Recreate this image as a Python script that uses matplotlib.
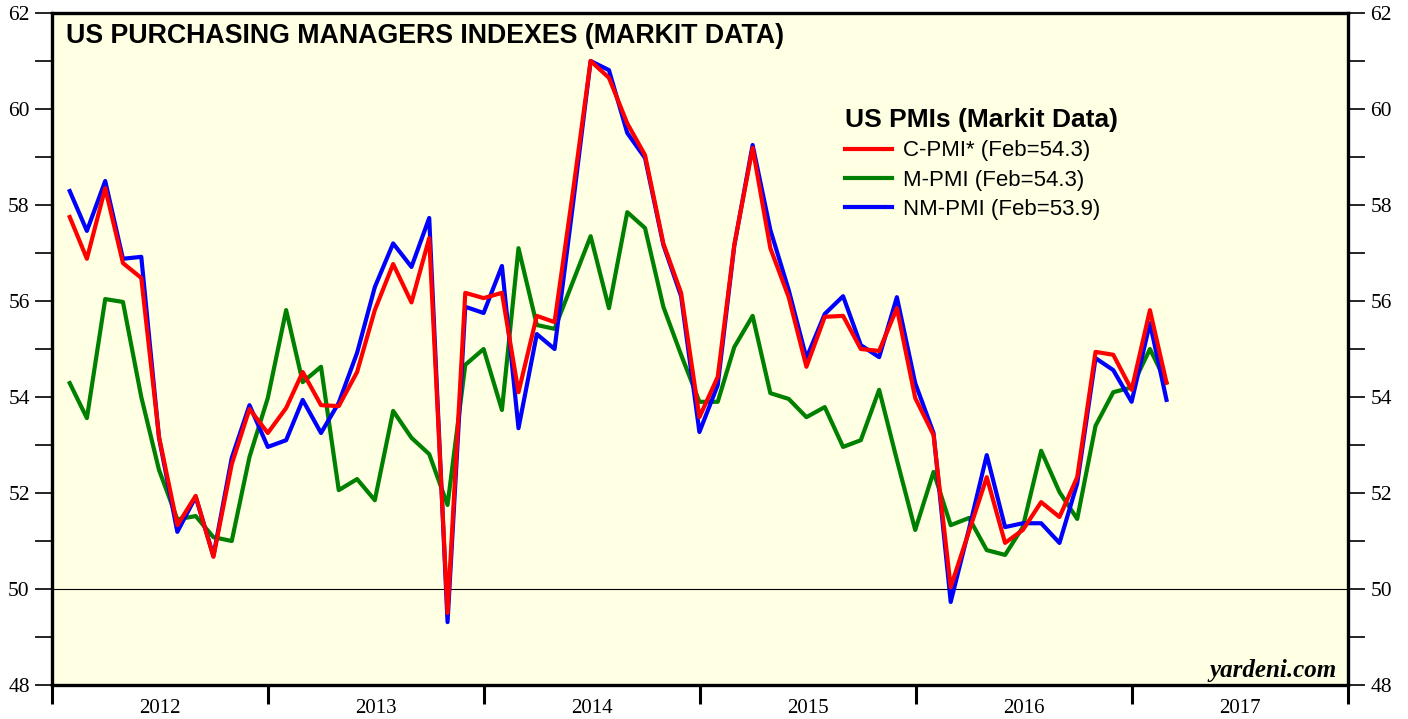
#!/usr/bin/env python3
"""US purchasing managers indexes (Markit data), monthly 2012 - Feb 2017."""

import matplotlib
matplotlib.use('Agg')
import matplotlib.pyplot as plt
import matplotlib.dates as mdates
import pandas as pd

# --- Data: monthly, Jan 2012 .. Feb 2017 ---
months = pd.date_range('2012-01-31', periods=62, freq='ME')

c_pmi = [57.75, 56.88, 58.35, 56.79, 56.48, 53.17, 51.33, 51.94, 50.67, 52.6, 53.75, 53.25,
         53.77, 54.52, 53.83, 53.81, 54.52, 55.81, 56.77, 55.97, 57.31, 49.5, 56.17, 56.06,
         56.17, 54.1, 55.69, 55.56, 58.27, 61.0, 60.65, 59.7, 59.04, 57.2, 56.17, 53.58,
         54.42, 57.17, 59.19, 57.1, 56.08, 54.63, 55.67, 55.69, 55.0, 54.96, 55.85, 53.98,
         53.21, 50.04, 51.2, 52.33, 50.96, 51.23, 51.81, 51.5, 52.33, 54.94, 54.88, 54.15,
         55.81, 54.3]

m_pmi = [54.29, 53.56, 56.04, 55.98, 54.0, 52.48, 51.45, 51.52, 51.08, 51.0, 52.75, 53.98,
         55.81, 54.31, 54.63, 52.06, 52.29, 51.85, 53.71, 53.15, 52.81, 51.75, 54.67, 55.0,
         53.73, 57.1, 55.5, 55.42, 56.4, 57.35, 55.85, 57.85, 57.52, 55.88, 54.88, 53.9,
         53.9, 55.04, 55.69, 54.08, 53.96, 53.58, 53.79, 52.96, 53.1, 54.15, 52.69, 51.23,
         52.44, 51.33, 51.48, 50.81, 50.71, 51.29, 52.88, 52.02, 51.46, 53.4, 54.1, 54.2,
         55.0, 54.3]

nm_pmi = [58.29, 57.46, 58.5, 56.88, 56.92, 53.15, 51.19, 51.92, 50.69, 52.73, 53.83, 52.96,
          53.1, 53.94, 53.25, 53.88, 54.92, 56.29, 57.2, 56.71, 57.73, 49.31, 55.88, 55.75,
          56.73, 53.35, 55.31, 55.0, 58.0, 61.0, 60.81, 59.5, 58.98, 57.17, 56.1, 53.27,
          54.25, 57.15, 59.25, 57.48, 56.23, 54.81, 55.73, 56.1, 55.08, 54.83, 56.08, 54.29,
          53.25, 49.73, 51.25, 52.79, 51.29, 51.37, 51.37, 50.96, 52.2, 54.81, 54.56, 53.9,
          55.54, 53.94]

labels = ['C-PMI* (Feb=54.3)', 'M-PMI (Feb=54.3)', 'NM-PMI (Feb=53.9)']
years = list(range(2012, 2018))

SANS = 'Liberation Sans'
SERIF = 'Liberation Serif'

fig = plt.figure(figsize=(14.08, 7.19), dpi=100)
ax = fig.add_axes([52 / 1408, 34 / 719, 1296 / 1408, 672 / 719])
ax.set_facecolor('#ffffe3')

# draw order: green under blue under red
l_m, = ax.plot(months, m_pmi, color='#008000', lw=3, zorder=3)
l_nm, = ax.plot(months, nm_pmi, color='#0000ff', lw=3, zorder=4)
l_c, = ax.plot(months, c_pmi, color='#ff0000', lw=3, zorder=5)

ax.axhline(50, color='black', lw=0.8, zorder=2)

# --- Axes ---
ax.set_ylim(48, 62)
ax.set_xlim(pd.Timestamp('2012-01-01'), pd.Timestamp('2018-01-01'))

ax.set_yticks(range(48, 63, 2))
ax.set_yticks(range(48, 63, 1), minor=True)
ax.tick_params(axis='y', which='both', direction='out', length=12, width=1.2,
               left=True, right=True, labelleft=True, labelright=True,
               labelsize=15.5, pad=4)
for lab in ax.get_yticklabels():
    lab.set_fontfamily(SERIF)

ax.xaxis.set_major_locator(mdates.YearLocator())
ax.xaxis.set_major_formatter(plt.NullFormatter())
ax.set_xticks([pd.Timestamp(f'{y}-07-02') for y in years], minor=True)
ax.set_xticklabels([str(y) for y in years], minor=True, fontfamily=SERIF, fontsize=15)
ax.tick_params(axis='x', which='major', direction='out', length=14, width=2.2)
ax.tick_params(axis='x', which='minor', length=0, pad=10)

for side in ['left', 'right', 'top', 'bottom']:
    ax.spines[side].set_linewidth(2.4)

# --- Text ---
ax.text(0.011, 0.985, 'US PURCHASING MANAGERS INDEXES (MARKIT DATA)',
        transform=ax.transAxes, fontfamily=SANS, fontweight='bold',
        fontsize=19.3, va='top', ha='left')

leg = ax.legend([l_c, l_m, l_nm], labels, loc='upper left',
                bbox_to_anchor=(0.605, 0.872), frameon=False,
                title='US PMIs (Markit Data)', handlelength=2.1,
                prop={'family': SANS, 'size': 16}, labelspacing=0.38,
                handletextpad=0.5, borderaxespad=0)
leg.get_title().set_fontfamily(SANS)
leg.get_title().set_fontweight('bold')
leg.get_title().set_fontsize(19)
leg._legend_box.align = 'left'

ax.text(0.991, 0.004, 'yardeni.com', transform=ax.transAxes,
        fontfamily=SERIF, fontstyle='italic', fontweight='bold',
        fontsize=18, ha='right', va='bottom')

fig.savefig('out.png', dpi=100)
